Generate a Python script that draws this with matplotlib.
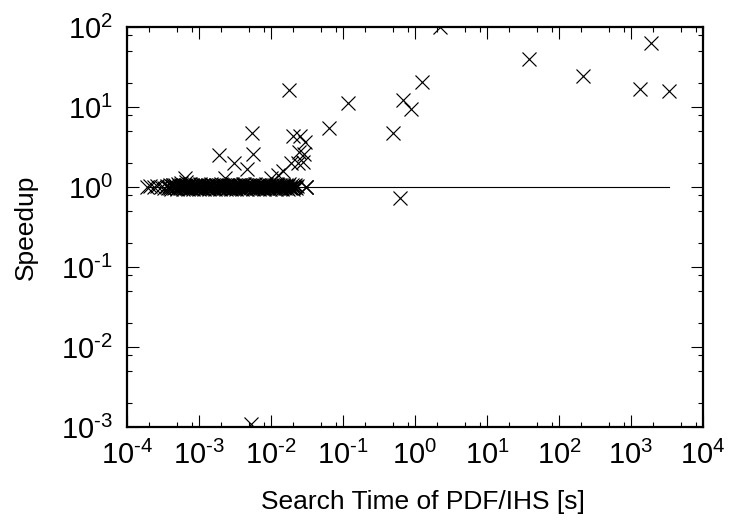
import numpy as np
import matplotlib
matplotlib.use("Agg")
import matplotlib.pyplot as plt
from matplotlib.ticker import LogLocator, NullFormatter, FuncFormatter

plt.rcParams['font.family'] = ['Liberation Sans', 'DejaVu Sans']
plt.rcParams['mathtext.fontset'] = 'custom'
plt.rcParams['mathtext.rm'] = 'Liberation Sans'
plt.rcParams['mathtext.it'] = 'Liberation Sans:italic'
plt.rcParams['mathtext.bf'] = 'Liberation Sans:bold'

# points scattered away from speedup = 1
out_time = [2.2, 38.6, 214, 1350, 1900, 3400, 1.25, 0.68, 0.88, 0.5,
            0.62, 0.119, 0.063, 0.0178, 0.0055, 0.0056, 0.00187, 0.0031, 0.0047, 0.0023,
            0.00063, 0.020, 0.025, 0.030, 0.0246, 0.029, 0.019, 0.024, 0.028, 0.0147,
            0.0126, 0.010, 0.0052, 0.0304, 0.0302, 0.0306]
out_speedup = [100, 39.8, 24.3, 16.7, 63, 15.8, 20.4, 12.2, 9.4, 4.7,
               0.72, 11.2, 5.4, 16.3, 4.8, 2.57, 2.5, 2.0, 1.66, 1.28,
               1.28, 4.3, 4.3, 3.6, 2.7, 2.6, 1.98, 2.0, 2.05, 1.57,
               1.4, 1.3, 0.0011, 0.99, 1.0, 1.01]

# dense band of instances with speedup ~1
band_time = [0.00019, 0.00021, 0.00024, 0.00026, 0.00030, 0.00033,
             0.00036, 0.00038, 0.00040, 0.00042, 0.00044, 0.00046, 0.00048, 0.00050, 0.00052, 0.00055,
             0.00057, 0.00060, 0.00062, 0.00065, 0.00068, 0.00071, 0.00074, 0.00077, 0.00081, 0.00085,
             0.00089, 0.00093, 0.00097, 0.0010, 0.00105, 0.0011, 0.00115, 0.0012, 0.00125, 0.0013,
             0.00136, 0.00142, 0.00148, 0.00155, 0.00162, 0.0017, 0.00178, 0.00186, 0.00195, 0.0020,
             0.0021, 0.0022, 0.0023, 0.0024, 0.0025, 0.0026, 0.0027, 0.0028, 0.0029, 0.0031,
             0.0032, 0.0034, 0.0035, 0.0037, 0.0038, 0.0040, 0.0042, 0.0044, 0.0046, 0.0048,
             0.0050, 0.0052, 0.0055, 0.0057, 0.0060, 0.0063, 0.0066, 0.0069, 0.0072, 0.0075,
             0.0079, 0.0083, 0.0087, 0.0091, 0.0095, 0.0100, 0.0105, 0.0110, 0.0115, 0.0120,
             0.0126, 0.0132, 0.0138, 0.0145, 0.0152, 0.0159, 0.0166, 0.0174, 0.0182, 0.0190,
             0.0199, 0.0208, 0.0218, 0.0228]
band_speedup = [1.00, 1.02, 0.99, 1.03, 1.01, 0.98,
                1.04, 1.00, 0.97, 1.02, 1.05, 0.99, 1.01, 0.98, 1.03, 1.00,
                1.12, 0.99, 1.02, 1.15, 0.98, 1.01, 1.10, 0.97, 1.03, 1.00,
                0.99, 1.04, 0.98, 1.01, 1.02, 0.97, 1.05, 1.00, 0.99, 1.03,
                0.98, 1.01, 1.04, 0.97, 1.00, 1.02, 0.99, 1.03, 0.98, 1.01,
                1.05, 0.97, 1.00, 1.02, 0.99, 1.04, 0.98, 1.01, 1.03, 0.97,
                1.00, 1.02, 0.99, 1.05, 0.98, 1.01, 1.10, 0.97, 1.03, 1.00,
                1.02, 0.99, 1.04, 0.98, 1.01, 0.97, 1.03, 1.00, 0.99, 1.02,
                0.98, 1.04, 1.01, 0.97, 1.00, 1.03, 0.99, 1.02, 0.98, 1.05,
                1.01, 0.97, 1.00, 1.03, 0.99, 1.02, 0.98, 1.04, 1.01, 0.97,
                1.00, 1.02, 0.99, 1.03]

# more instances in the same band (read as a second layer of crosses)
band2_time = [0.00037, 0.00039, 0.00041, 0.00043, 0.00045, 0.00047, 0.00049, 0.00051, 0.00054, 0.00056,
              0.00059, 0.00061, 0.00064, 0.00066, 0.00070, 0.00073, 0.00076, 0.00079, 0.00083, 0.00087,
              0.00091, 0.00095, 0.00099, 0.00103, 0.00108, 0.00113, 0.00118, 0.00123, 0.00128, 0.00133,
              0.00139, 0.00145, 0.00151, 0.00158, 0.00166, 0.00174, 0.00182, 0.0019, 0.00198, 0.00205,
              0.00215, 0.00225, 0.00235, 0.00245, 0.00255, 0.00265, 0.00275, 0.00285, 0.0030, 0.00315,
              0.0033, 0.00345, 0.0036, 0.00375, 0.0039, 0.0041, 0.0043, 0.0045, 0.0047, 0.0049,
              0.0051, 0.0054, 0.0056, 0.0059, 0.0062, 0.0065, 0.0068, 0.0071, 0.0074, 0.0077,
              0.0081, 0.0085, 0.0089, 0.0093, 0.0098, 0.0103, 0.0108, 0.0113, 0.0118, 0.0123,
              0.0129, 0.0135, 0.0142, 0.0149, 0.0156, 0.0163, 0.0170, 0.0178, 0.0186, 0.0195,
              0.0204, 0.0213, 0.0223]
band2_speedup = [0.96, 1.06, 0.95, 1.07, 0.96, 1.06, 0.95, 1.08, 0.96, 1.06,
                 0.95, 1.07, 0.96, 1.06, 0.95, 1.08, 0.96, 1.06, 0.95, 1.07,
                 0.96, 1.06, 0.95, 1.08, 0.96, 1.06, 0.95, 1.07, 0.96, 1.06,
                 0.95, 1.08, 0.96, 1.06, 0.95, 1.07, 0.96, 1.06, 0.95, 1.08,
                 0.96, 1.06, 0.95, 1.07, 0.96, 1.06, 0.95, 1.08, 0.96, 1.06,
                 0.95, 1.07, 0.96, 1.06, 0.95, 1.08, 0.96, 1.06, 0.95, 1.07,
                 0.96, 1.06, 0.95, 1.08, 0.96, 1.06, 0.95, 1.07, 0.96, 1.06,
                 0.95, 1.08, 0.96, 1.06, 0.95, 1.07, 0.96, 1.06, 0.95, 1.08,
                 0.96, 1.06, 0.95, 1.07, 0.96, 1.06, 0.95, 1.08, 0.96, 1.06,
                 0.95, 1.07, 0.96]

times = band_time + band2_time + out_time
speedups = band_speedup + band2_speedup + out_speedup

fig = plt.figure(figsize=(7.3, 5.22), dpi=100)
ax = fig.add_axes([127 / 730, 1 - 427 / 522, (703 - 127) / 730, (427 - 27) / 522])

# reference line at speedup = 1 across the data range
ax.plot([min(times), max(times)], [1, 1], color='black', lw=0.8)
ax.plot(times, speedups, linestyle='none', marker='x', color='black',
        markersize=9.6, markeredgewidth=0.85)

ax.set_xscale('log')
ax.set_yscale('log')
ax.set_xlim(1e-4, 1e4)
ax.set_ylim(1e-3, 1e2)
ax.set_xticks([10.0 ** k for k in range(-4, 5)])
ax.set_yticks([10.0 ** k for k in range(-3, 3)])
ax.xaxis.set_minor_locator(LogLocator(base=10, subs=(2, 5, 8), numticks=30))
ax.yaxis.set_minor_locator(LogLocator(base=10, subs=(2, 5, 8), numticks=30))
ax.xaxis.set_minor_formatter(NullFormatter())
ax.yaxis.set_minor_formatter(NullFormatter())

# gnuplot-style labels: 10^k with a plain hyphen
def pow_label(v, pos):
    k = int(round(np.log10(v)))
    if k < 0:
        return r'$\mathregular{10^{\text{-}%d}}$' % (-k)
    return r'$\mathregular{10^{%d}}$' % k

ax.xaxis.set_major_formatter(FuncFormatter(pow_label))
ax.yaxis.set_major_formatter(FuncFormatter(pow_label))

ax.tick_params(which='both', direction='in', top=True, right=True, width=0.8)
ax.tick_params(which='major', length=8.6, labelsize=21)
ax.tick_params(axis='x', which='major', pad=10)
ax.tick_params(axis='y', which='major', pad=10)
ax.tick_params(which='minor', length=3.6)
for s in ax.spines.values():
    s.set_linewidth(1.6)

ax.set_xlabel('Search Time of PDF/IHS [s]', fontsize=19, labelpad=14)
ax.xaxis.label.set_x((423 - 127) / 576)
ax.set_ylabel('Speedup', fontsize=19, labelpad=17)

fig.savefig('out.png', dpi=100)
